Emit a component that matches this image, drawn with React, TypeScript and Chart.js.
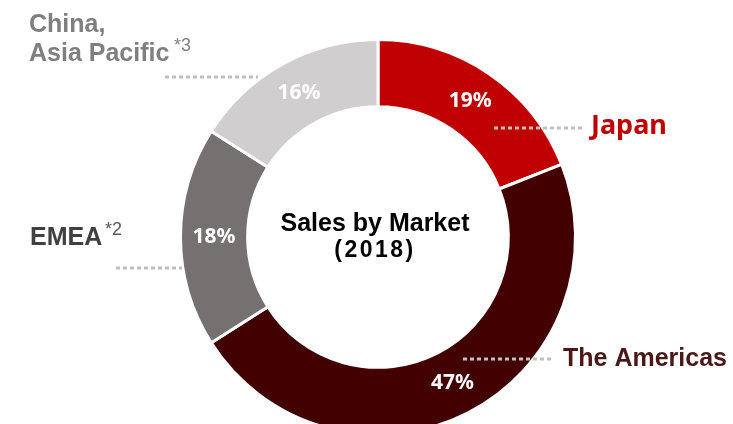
import React, { useEffect, useRef } from "react";
import { Chart, registerables } from "chart.js";

Chart.register(...registerables);

const categories = ["Japan", "The Americas", "EMEA", "China, Asia Pacific"];
const values = [19, 47, 18, 16];
const colors = ["#C00000", "#420000", "#767171", "#D0CECE"];

const labelPlugin = {
  id: "labelPlugin",
  afterDatasetsDraw(chart: any) {
    const ctx = chart.ctx as CanvasRenderingContext2D;
    const meta = chart.getDatasetMeta(0);
    const data = chart.data.datasets[0].data as number[];
    const total = data.reduce((a, b) => a + b, 0);
    ctx.save();
    // percent labels
    ctx.fillStyle = "#FFFFFF";
    ctx.font = "bold 21px 'Noto Sans', sans-serif";
    ctx.textAlign = "center";
    ctx.textBaseline = "middle";
    meta.data.forEach((arc: any, i: number) => {
      const p = arc.tooltipPosition();
      ctx.fillText(Math.round((data[i] / total) * 100) + "%", p.x, p.y);
    });

    // leader lines
    ctx.strokeStyle = "#BFBFBF";
    ctx.lineWidth = 3;
    ctx.setLineDash([4, 3]);
    const lines = [
      [165, 77, 258],
      [116, 268, 182],
      [494, 128, 582],
      [463, 359, 553],
    ];
    lines.forEach(([x1, y, x2]) => {
      ctx.beginPath();
      ctx.moveTo(x1, y);
      ctx.lineTo(x2, y);
      ctx.stroke();
    });
    ctx.setLineDash([]);

    // outer labels
    ctx.textAlign = "left";
    ctx.textBaseline = "alphabetic";
    ctx.font = "bold 25px 'Liberation Sans', Arial, sans-serif";
    ctx.fillStyle = "#7F7F7F";
    ctx.fillText("China,", 29, 32);
    ctx.fillText("Asia Pacific", 29, 61);
    ctx.fillStyle = "#404040";
    ctx.fillText("EMEA", 30, 245);
    ctx.fillStyle = "#4B1818";
    ctx.fillText("The Americas", 563, 366);
    ctx.font = "bold 27px 'Noto Sans', sans-serif";
    ctx.fillStyle = "#C00000";
    ctx.fillText("Japan", 591, 134);

    ctx.font = "18px 'Liberation Sans', Arial, sans-serif";
    ctx.fillStyle = "#808080";
    ctx.fillText("*3", 174, 51);
    ctx.fillStyle = "#595959";
    ctx.fillText("*2", 105, 235);

    // center title
    ctx.textAlign = "center";
    ctx.fillStyle = "#000000";
    ctx.font = "bold 25px 'Liberation Sans', Arial, sans-serif";
    ctx.fillText("Sales by Market", 375, 231);
    ctx.font = "bold 23px 'Liberation Sans', Arial, sans-serif";
    (ctx as any).letterSpacing = "2.5px";
    ctx.fillText("(2018)", 375, 257);
    ctx.restore();
  },
};

export default function App() {
  const ref = useRef<HTMLCanvasElement>(null);
  useEffect(() => {
    if (!ref.current) return;
    const chart = new Chart(ref.current, {
      type: "doughnut",
      data: {
        labels: categories,
        datasets: [
          {
            data: values,
            backgroundColor: colors,
            borderColor: "#FFFFFF",
            borderWidth: 3,
          },
        ],
      },
      options: {
        animation: false,
        responsive: false,
        maintainAspectRatio: false,
        cutout: "66%",
        layout: { padding: { top: 38, bottom: 38, left: 23, right: 0 } },
        plugins: {
          legend: { display: false },
          tooltip: { enabled: false },
        },
      },
      plugins: [labelPlugin],
    });
    return () => chart.destroy();
  }, []);
  return (
    <div
      style={{
        position: "fixed",
        left: 0,
        top: 0,
        width: 733,
        height: 424,
        overflow: "hidden",
        background: "#fff",
      }}
    >
      <canvas ref={ref} width={733} height={474} style={{ display: "block" }} />
    </div>
  );
}
